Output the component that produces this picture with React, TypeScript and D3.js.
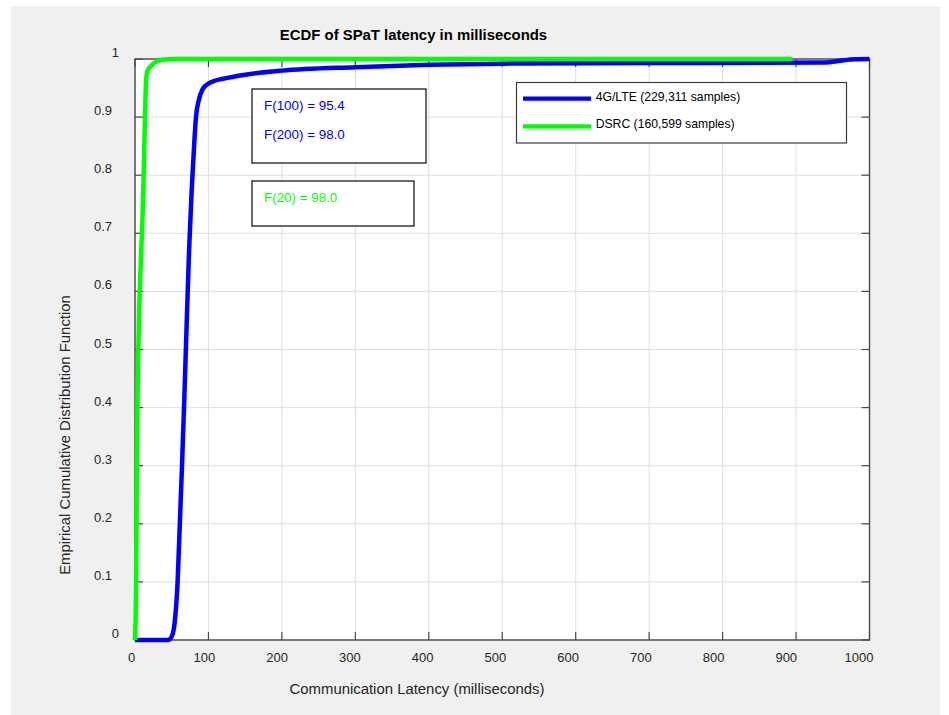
import React from "react";
import * as d3 from "d3";

const TITLE = "ECDF of SPaT latency in milliseconds";
const X_LABEL = "Communication Latency (milliseconds)";
const Y_LABEL = "Empirical Cumulative Distribution Function";

const X_TICKS = [0, 100, 200, 300, 400, 500, 600, 700, 800, 900, 1000];
const Y_TICKS = [0, 0.1, 0.2, 0.3, 0.4, 0.5, 0.6, 0.7, 0.8, 0.9, 1];
const Y_TICK_LABELS = ["0", "0.1", "0.2", "0.3", "0.4", "0.5", "0.6", "0.7", "0.8", "0.9", "1"];

// 4G/LTE ECDF (latency ms, F)
const LTE_X = [0, 45, 50, 54, 58, 61, 64, 67, 70, 73.6, 77, 80, 83, 87, 92, 97, 105, 120, 150, 200, 300, 400, 500, 700, 940, 960, 980, 1000];
const LTE_Y = [0, 0, 0.006, 0.03, 0.1, 0.2, 0.3, 0.41, 0.53, 0.67, 0.77, 0.84, 0.9, 0.93, 0.948, 0.955, 0.961, 0.966, 0.973, 0.98, 0.986, 0.99, 0.992, 0.993, 0.994, 0.997, 0.9995, 1];

// DSRC ECDF
const DSRC_X = [0, 1.5, 2.5, 3.5, 6, 8.5, 11, 12.5, 13.8, 15, 17, 22, 30, 40, 55, 895];
const DSRC_Y = [0, 0.1, 0.3, 0.42, 0.58, 0.67, 0.76, 0.84, 0.91, 0.96, 0.98, 0.988, 0.996, 0.999, 1, 1];

const LEGEND = ["4G/LTE (229,311 samples)", "DSRC (160,599 samples)"];
const COLORS = ["#0000ff", "#00ff00"];
const ANNOT_LTE = ["F(100) = 95.4", "F(200) = 98.0"];
const ANNOT_DSRC = ["F(20) = 98.0"];

export default function App() {
  const W = 949, H = 715;
  const left = 135, right = 869.5, top = 59, bottom = 640;
  const x = d3.scaleLinear().domain([0, 1000]).range([left, right]);
  const y = d3.scaleLinear().domain([0, 1]).range([bottom, top]);
  const xLab = d3.scaleLinear().domain([0, 1000]).range([131.7, 859]);
  const line = d3.line<[number, number]>().x(d => x(d[0])).y(d => y(d[1])).curve(d3.curveMonotoneX);
  const lte = LTE_X.map((v, i) => [v, LTE_Y[i]] as [number, number]);
  const dsrc = DSRC_X.map((v, i) => [v, DSRC_Y[i]] as [number, number]);
  const font = "'Liberation Sans', Arial, Helvetica, sans-serif";
  const axisCol = "#4a4a4a";
  const textCol = "#262626";
  const tickLen = 8;

  return (
    <svg width={W} height={H} style={{ position: "absolute", left: 0, top: 0 }} fontFamily={font}>
      <rect x={0} y={0} width={W} height={H} fill="#ffffff" />
      <rect x={11} y={6} width={929} height={709} fill="#f0f0f0" />
      <rect x={left} y={top} width={right - left} height={bottom - top} fill="#ffffff" />
      {/* grid */}
      {X_TICKS.map(v => (
        <line key={"gx" + v} x1={x(v)} x2={x(v)} y1={top} y2={bottom} stroke="#dfdfdf" strokeWidth={1} />
      ))}
      {Y_TICKS.map(v => (
        <line key={"gy" + v} x1={left} x2={right} y1={y(v)} y2={y(v)} stroke="#dfdfdf" strokeWidth={1} />
      ))}
      {/* ticks */}
      {X_TICKS.map(v => (
        <g key={"tx" + v}>
          <line x1={x(v)} x2={x(v)} y1={bottom} y2={bottom - tickLen} stroke={axisCol} strokeWidth={1.2} />
          <line x1={x(v)} x2={x(v)} y1={top} y2={top + tickLen} stroke={axisCol} strokeWidth={1.2} />
        </g>
      ))}
      {Y_TICKS.map(v => (
        <g key={"ty" + v}>
          <line x1={left} x2={left + tickLen} y1={y(v)} y2={y(v)} stroke={axisCol} strokeWidth={1.2} />
          <line x1={right} x2={right - tickLen} y1={y(v)} y2={y(v)} stroke={axisCol} strokeWidth={1.2} />
        </g>
      ))}
      <rect x={left} y={top} width={right - left} height={bottom - top} fill="none" stroke={axisCol} strokeWidth={1.4} />
      {/* tick labels */}
      {X_TICKS.map(v => (
        <text key={"lx" + v} x={xLab(v)} y={662} textAnchor="middle" fontSize={13} fill={textCol}>{v}</text>
      ))}
      {Y_TICKS.map((v, i) => {
        const lab = Y_TICK_LABELS[i];
        return (
          <text key={"ly" + v} x={lab.length === 1 ? 119 : 112} y={y(v) - 6.5} dy="0.35em" textAnchor="end" fontSize={13} fill={textCol}>{lab}</text>
        );
      })}
      {/* curves */}
      <path d={line(lte) || ""} fill="none" stroke={COLORS[0]} strokeWidth={4.5} strokeLinejoin="round" />
      <path d={line(dsrc) || ""} fill="none" stroke={COLORS[1]} strokeWidth={4.5} strokeLinejoin="round" />
      {/* title & axis labels */}
      <text x={413.5} y={40} textAnchor="middle" fontSize={14.9} fontWeight="bold" fill="#000">{TITLE}</text>
      <text x={417} y={693.5} textAnchor="middle" fontSize={14.9} fill={textCol}>{X_LABEL}</text>
      <text transform={`translate(70, 435) rotate(-90)`} textAnchor="middle" fontSize={14.9} fill={textCol}>{Y_LABEL}</text>
      {/* annotation boxes */}
      <rect x={252} y={89} width={174} height={74} fill="#ffffff" stroke="#1a1a1a" strokeWidth={1.3} />
      {ANNOT_LTE.map((t, i) => (
        <text key={t} x={264} y={110 + i * 29} fontSize={13.4} fill={COLORS[0]}>{t}</text>
      ))}
      <rect x={252} y={181} width={162} height={45} fill="#ffffff" stroke="#1a1a1a" strokeWidth={1.3} />
      {ANNOT_DSRC.map(t => (
        <text key={t} x={264} y={202} fontSize={13.4} fill={COLORS[1]}>{t}</text>
      ))}
      {/* legend */}
      <rect x={516.5} y={82.5} width={330} height={60.5} fill="#ffffff" stroke="#3c3c3c" strokeWidth={1.2} />
      {LEGEND.map((t, i) => (
        <g key={t}>
          <line x1={523} x2={591} y1={98.7 + i * 27.6} y2={98.7 + i * 27.6} stroke={COLORS[i]} strokeWidth={4.3} />
          <text x={595.7} y={101 + i * 27.3} fontSize={12.2} fill="#000">{t}</text>
        </g>
      ))}
    </svg>
  );
}
